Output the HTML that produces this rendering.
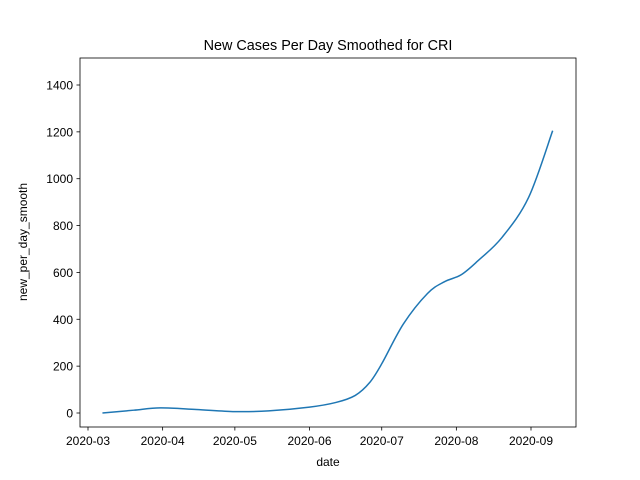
<!DOCTYPE html>
<html><head><meta charset="utf-8"><style>
body{margin:0;background:#fff}
svg{display:block;font-family:"Liberation Sans","DejaVu Sans",sans-serif}
</style></head><body>
<svg id="chart" width="640" height="480" viewBox="0 0 640 480">
<rect width="640" height="480" fill="#fff"/>
<text x="328" y="50" text-anchor="middle" font-size="14.4">New Cases Per Day Smoothed for CRI</text>
<g id="plot"></g>
<rect x="80" y="58" width="496" height="369" fill="none" stroke="#000" stroke-width="0.8"/>
<text x="328" y="466" text-anchor="middle" font-size="12">date</text>
<text transform="translate(27,242) rotate(-90)" text-anchor="middle" font-size="12">new_per_day_smooth</text>
</svg>
<script>
const dates = ["2020-03-07","2020-03-20","2020-03-31","2020-04-15","2020-05-01","2020-05-15","2020-06-01","2020-06-12","2020-06-20","2020-06-26","2020-07-01","2020-07-10","2020-07-20","2020-07-27","2020-08-03","2020-08-10","2020-08-20","2020-08-31","2020-09-10"];
const values = [0,12,22,15,6,9,25,45,75,130,210,380,510,560,590,650,750,920,1205];
const yTicks = [0,200,400,600,800,1000,1200,1400];
const xTicks = ["2020-03","2020-04","2020-05","2020-06","2020-07","2020-08","2020-09"];

const ns="http://www.w3.org/2000/svg";
const g=document.getElementById('plot');
const t0=Date.UTC(2020,2,1);
function dayOf(s){const p=s.split('-').map(Number);return (Date.UTC(p[0],p[1]-1,p[2]||1)-t0)/86400000;}
function xS(s){return 88+dayOf(s)*(443/184);}
function yS(v){return 413-v*(328/1400);}
function mk(tag,attrs){const e=document.createElementNS(ns,tag);for(const k in attrs)e.setAttribute(k,attrs[k]);g.appendChild(e);return e;}
yTicks.forEach(v=>{
  const y=yS(v);
  const l=mk('line',{x1:76.5,x2:80,y1:y,y2:y,stroke:'#000','stroke-width':0.8});
  
  
  const t=mk('text',{x:73,y:y+4.5,'text-anchor':'end','font-size':12});
  t.textContent=v;
  
  
});
xTicks.forEach(s=>{
  const x=xS(s);
  const l=mk('line',{x1:x,x2:x,y1:427,y2:430.5,stroke:'#000','stroke-width':0.8});
  
  
  const t=mk('text',{x:x,y:445,'text-anchor':'middle','font-size':12});
  t.textContent=s;
  
  
});
const pts=dates.map((d,i)=>[xS(d),yS(values[i])]);
let d='M'+pts[0][0]+','+pts[0][1];
for(let i=0;i<pts.length-1;i++){
  const p0=pts[Math.max(0,i-1)],p1=pts[i],p2=pts[i+1],p3=pts[Math.min(pts.length-1,i+2)];
  const c1=[p1[0]+(p2[0]-p0[0])/6,p1[1]+(p2[1]-p0[1])/6];
  const c2=[p2[0]-(p3[0]-p1[0])/6,p2[1]-(p3[1]-p1[1])/6];
  d+=` C${c1[0]},${c1[1]} ${c2[0]},${c2[1]} ${p2[0]},${p2[1]}`;
}
const line=mk('path',{d:d,fill:'none',stroke:'#1f77b4','stroke-width':1.5});


</script>
</body></html>
